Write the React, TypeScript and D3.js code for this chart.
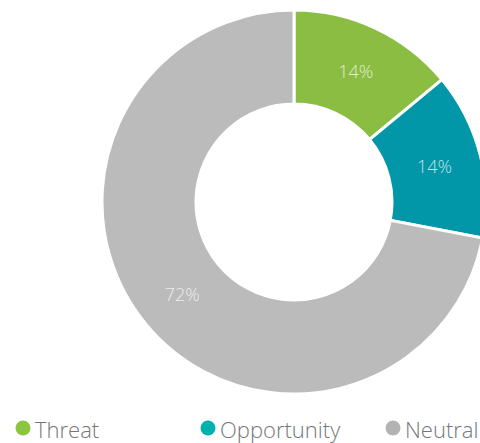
import React from "react";
import * as d3 from "d3";

const categories = ["Threat", "Opportunity", "Neutral"];
const values = [14, 14, 72];
const sliceColors = ["#8bbd43", "#0197a8", "#bbbbbb"];
const legendColors = ["#8cc63f", "#00b2ae", "#b3b3b3"];

export default function App() {
  const W = 480, H = 443;
  const cx = 294, cy = 202, R = 192, r0 = 98;
  const pie = d3.pie<number>().sort(null).value((d) => d)(values);
  const arc = d3.arc<d3.PieArcDatum<number>>().innerRadius(r0).outerRadius(R);
  const legendX = [23, 208, 393];
  return (
    <svg width={W} height={H} style={{ position: "absolute", left: 0, top: 0 }}>
      <g transform={`translate(${cx},${cy})`}>
        {pie.map((p, i) => (
          <path key={i} d={arc(p) || ""} fill={sliceColors[i]} stroke="#fff" strokeWidth={3} />
        ))}
        {pie.map((p, i) => {
          const [x, y] = arc.centroid(p);
          return (
            <text key={"l" + i} x={x} y={y} textAnchor="middle" dominantBaseline="central"
              fill="#fff" fillOpacity={0.75} fontFamily="Open Sans" fontWeight={300} fontSize={18}>
              {values[i]}%
            </text>
          );
        })}
      </g>
      {categories.map((c, i) => (
        <g key={c}>
          <circle cx={legendX[i]} cy={428} r={7.5} fill={legendColors[i]} />
          <text x={legendX[i] + 12} y={429} dominantBaseline="central" fontFamily="Open Sans"
            fontWeight={300} fontSize={22} fill="#73777c">
            {c}
          </text>
        </g>
      ))}
    </svg>
  );
}
